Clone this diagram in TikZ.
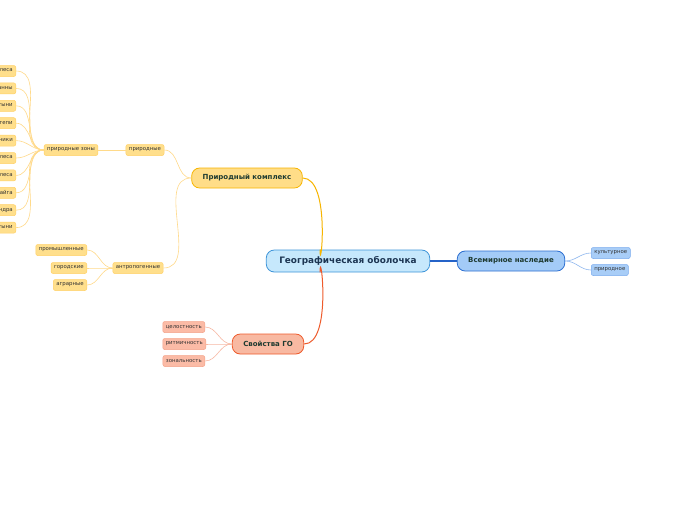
\documentclass[tikz,border=0pt]{standalone}
\usepackage{fontspec}
\setmainfont{DejaVu Sans}
\usepackage{xcolor}
\usetikzlibrary{positioning}

\definecolor{rootfill}{HTML}{C6E8FC}
\definecolor{rootline}{HTML}{3D94D9}
\definecolor{roottext}{HTML}{1C3552}
\definecolor{topictext}{HTML}{1E3A30}
\definecolor{yelfill}{HTML}{FFDD88}
\definecolor{yelline}{HTML}{F7B500}
\definecolor{yelleaf}{HTML}{FFDF8C}
\definecolor{yelleafline}{HTML}{FFD166}
\definecolor{yellink}{HTML}{FFDA8A}
\definecolor{redfill}{HTML}{F8B9A2}
\definecolor{redline}{HTML}{EE5B2C}
\definecolor{redleaf}{HTML}{FBBBA6}
\definecolor{redleafline}{HTML}{F4A288}
\definecolor{redlink}{HTML}{F7B8A3}
\definecolor{bluefill}{HTML}{A3CBF7}
\definecolor{blueline}{HTML}{2C6FD1}
\definecolor{bluelinkmain}{HTML}{2563C8}
\definecolor{blueleaf}{HTML}{A8CDF7}
\definecolor{blueleafline}{HTML}{79AAEE}
\definecolor{bluelink}{HTML}{8FB8EF}

\begin{document}
\begin{tikzpicture}[x=1pt, y=-1pt,
  topic/.style={draw, line width=0.8pt, rounded corners=8pt, minimum height=20pt,
    inner xsep=11pt, font=\fontsize{7}{8}\selectfont\bfseries, text=topictext},
  leaf/.style={draw, line width=0.5pt, rounded corners=2pt, minimum height=11pt,
    inner xsep=3pt, inner ysep=1pt, font=\fontsize{5.4}{6}\selectfont, text=black!80},
  yleaf/.style={leaf, fill=yelleaf, draw=yelleafline},
  rleaf/.style={leaf, fill=redleaf, draw=redleafline},
  bleaf/.style={leaf, fill=blueleaf, draw=blueleafline},
  ylink/.style={yellink, line width=0.6pt},
  rlink/.style={redlink, line width=0.6pt},
  blink/.style={bluelink, line width=0.6pt}]

\useasboundingbox[fill=white] (0,0) rectangle (696,520);

\node[topic, fill=rootfill, draw=rootline, text=roottext, minimum height=22pt,
  inner xsep=13pt, font=\fontsize{8.9}{10}\selectfont\bfseries] (root) at (348,261) {Географическая оболочка};

\node[topic, fill=yelfill, draw=yelline] (nature) at (247,178) {Природный комплекс};
\node[topic, fill=redfill, draw=redline] (props) at (268,344) {Свойства ГО};
\node[topic, fill=bluefill, draw=blueline] (heritage) at (511,261) {Всемирное наследие};

\draw[yelline, line width=1pt] ([xshift=-28pt]root.north) to[out=-90,in=0] (nature.east);
\draw[redline, line width=1pt] ([xshift=-28pt]root.south) to[out=90,in=0] (props.east);
\draw[draw=bluelinkmain, line width=1.2pt] (root) -- (heritage);

% природный комплекс
\node[yleaf] (natural) at (145,150) {природные};
\node[yleaf] (zones) at (71,150) {природные зоны};
\node[yleaf] (anthro) at (138,268) {антропогенные};
\draw[ylink] (nature.west) to[out=180,in=0] (natural.east);
\draw[ylink] (nature.west) to[out=180,in=0] (anthro.east);
\draw[ylink] (natural) -- (zones);

\foreach \name [count=\i] in {влажные экваториальные леса, саванны, пустыни, степи,
  жестколистные кустарники, широколиственные леса, смешанные леса, тайга, тундра,
  арктические пустыни}{
  \node[yleaf, anchor=east] (z\i) at (16,71+17.4*\i-17.4) {\name};
  \draw[ylink] (zones.west) to[out=180,in=0] (z\i.east);
}

\node[yleaf, anchor=east] (industrial) at (87,250) {промышленные};
\node[yleaf, anchor=east] (urban) at (87,268) {городские};
\node[yleaf, anchor=east] (agrarian) at (87,285) {аграрные};
\foreach \n in {industrial, urban, agrarian}
  \draw[ylink] (anthro.west) to[out=180,in=0] (\n.east);

% свойства
\node[rleaf, anchor=east] (integrity) at (205,327) {целостность};
\node[rleaf, anchor=east] (rhythm) at (206,344) {ритмичность};
\node[rleaf, anchor=east] (zonality) at (205,361) {зональность};
\foreach \n in {integrity, rhythm, zonality}
  \draw[rlink] (props.west) to[out=180,in=0] (\n.east);

% наследие
\node[bleaf, anchor=west] (cultural) at (591,253) {культурное};
\node[bleaf, anchor=west] (natheritage) at (591,270) {природное};
\foreach \n in {cultural, natheritage}
  \draw[blink] (heritage.east) to[out=0,in=180] (\n.west);

\end{tikzpicture}
\end{document}
